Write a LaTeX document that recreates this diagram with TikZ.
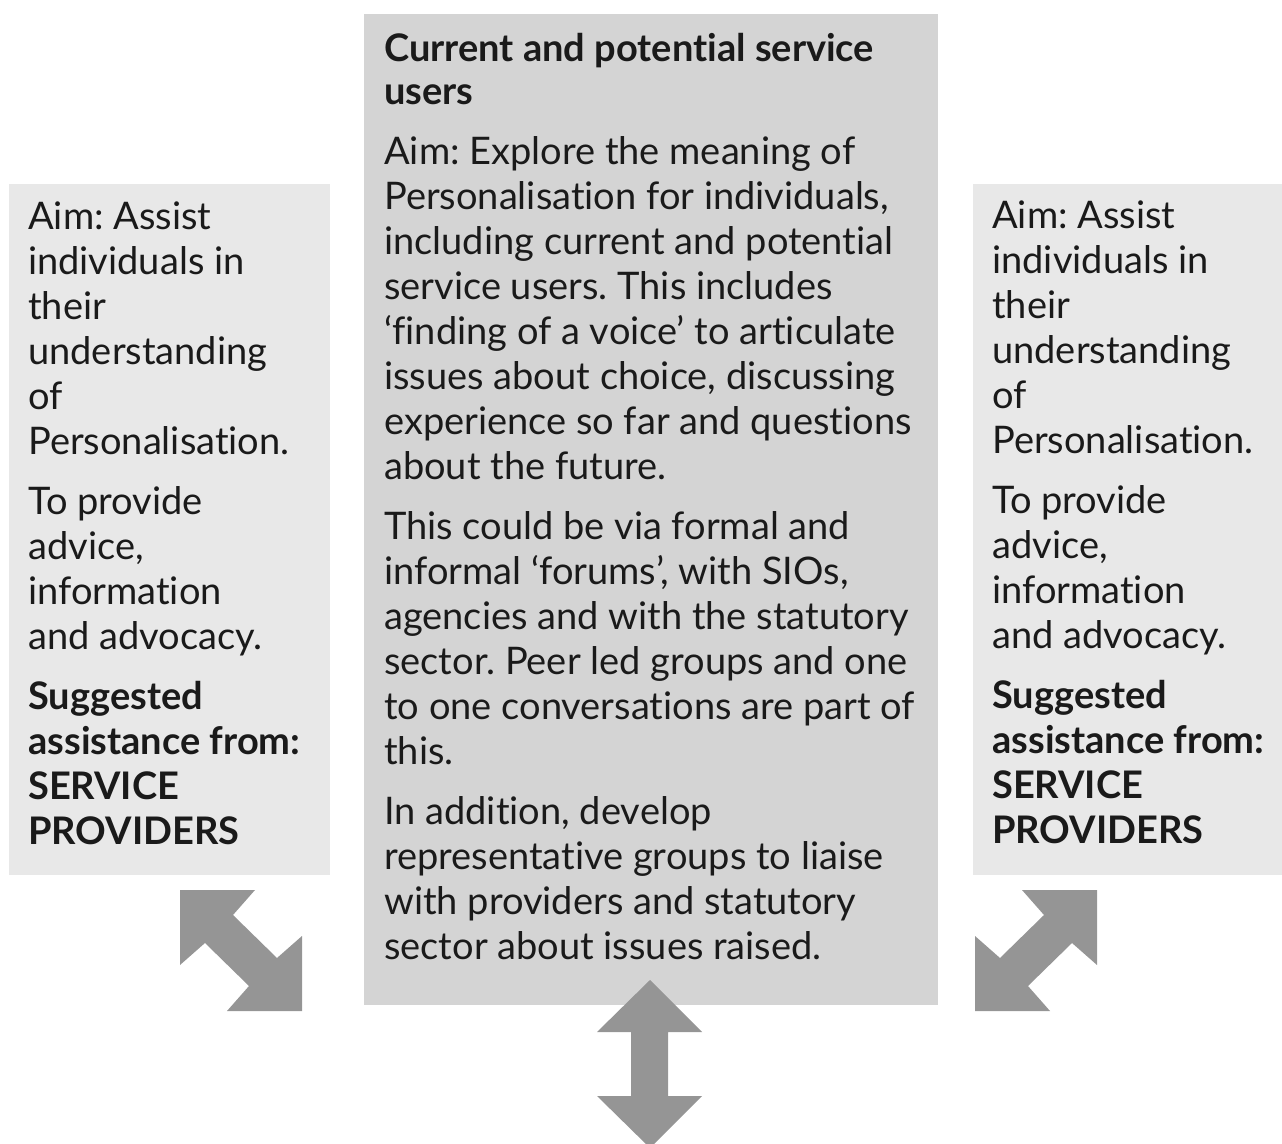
\documentclass[tikz,border=0pt]{standalone}
\usepackage{fontspec}
\setmainfont{Lato}[Ligatures=NoCommon]
\frenchspacing
\definecolor{sidegray}{HTML}{E8E8E8}
\definecolor{maingray}{HTML}{D4D4D4}
\definecolor{arrowgray}{HTML}{959595}
\definecolor{inkgray}{HTML}{1A1A1A}
\begin{document}
\begin{tikzpicture}[x=0.75pt,y=-0.75pt,
  panel/.style={draw=none, inner sep=0pt, anchor=north west},
  sidepanel/.style={panel, fill=sidegray, minimum width=240.75pt, minimum height=518.25pt},
  mainpanel/.style={panel, fill=maingray, minimum width=430.5pt, minimum height=743.25pt},
  bodytext/.style={inner sep=0pt, anchor=base west, align=left, text=inkgray,
    font=\fontsize{28.5}{33.75}\selectfont\frenchspacing},
  blockarrow/.style={fill=arrowgray, draw=none}]
\useasboundingbox (0,0) rectangle (1282,1144);

% background panels
\node[sidepanel] (leftbox) at (9,184) {};
\node[mainpanel] (centrebox) at (364,14) {};
\node[sidepanel, minimum width=231.75pt] (rightbox) at (973,184) {};

% panel texts (anchored at the baseline of their last line)
\node[bodytext] (lefttext) at (28,844) {Aim: Assist\\individuals in\\their\\understanding\\of\\Personalisation.\\[11.25pt]To provide\\advice,\\information\\and advocacy.\\[11.25pt]\textbf{Suggested}\\\textbf{assistance from:}\\\textbf{SERVICE}\\\textbf{PROVIDERS}};

\node[bodytext] (centretext) at (384,959) {\textbf{Current and potential service}\\[-1.5pt]\textbf{users}\\[11.25pt]Aim: Explore the meaning of\\Personalisation for individuals,\\including current and potential\\service users. This includes\\‘finding of a voice’ to articulate\\issues about choice, discussing\\experience so far and questions\\about the future.\\[11.25pt]This could be via formal and\\informal ‘forums’, with SIOs,\\agencies and with the statutory\\sector. Peer led groups and one\\to one conversations are part of\\this.\\[11.25pt]In addition, develop\\representative groups to liaise\\with providers and statutory\\sector about issues raised.};

\node[bodytext] (righttext) at (992,843) {Aim: Assist\\individuals in\\their\\understanding\\of\\Personalisation.\\[11.25pt]To provide\\advice,\\information\\and advocacy.\\[11.25pt]\textbf{Suggested}\\\textbf{assistance from:}\\\textbf{SERVICE}\\\textbf{PROVIDERS}};

% double-headed block arrows
\fill[blockarrow] (180,890) -- (255,890) -- (233,915) -- (277,958) -- (302,936)
  -- (302,1011) -- (227,1011) -- (249,986) -- (205,943) -- (180,965) -- cycle;
\fill[blockarrow] (1097,890) -- (1022,890) -- (1044,915) -- (1000,958) -- (975,936)
  -- (975,1011) -- (1050,1011) -- (1028,986) -- (1072,943) -- (1097,965) -- cycle;
\fill[blockarrow] (650,980) -- (702,1032) -- (668,1032) -- (668,1096) -- (702,1096)
  -- (650,1148) -- (597,1096) -- (631,1096) -- (631,1032) -- (597,1032) -- cycle;
\end{tikzpicture}
\end{document}
